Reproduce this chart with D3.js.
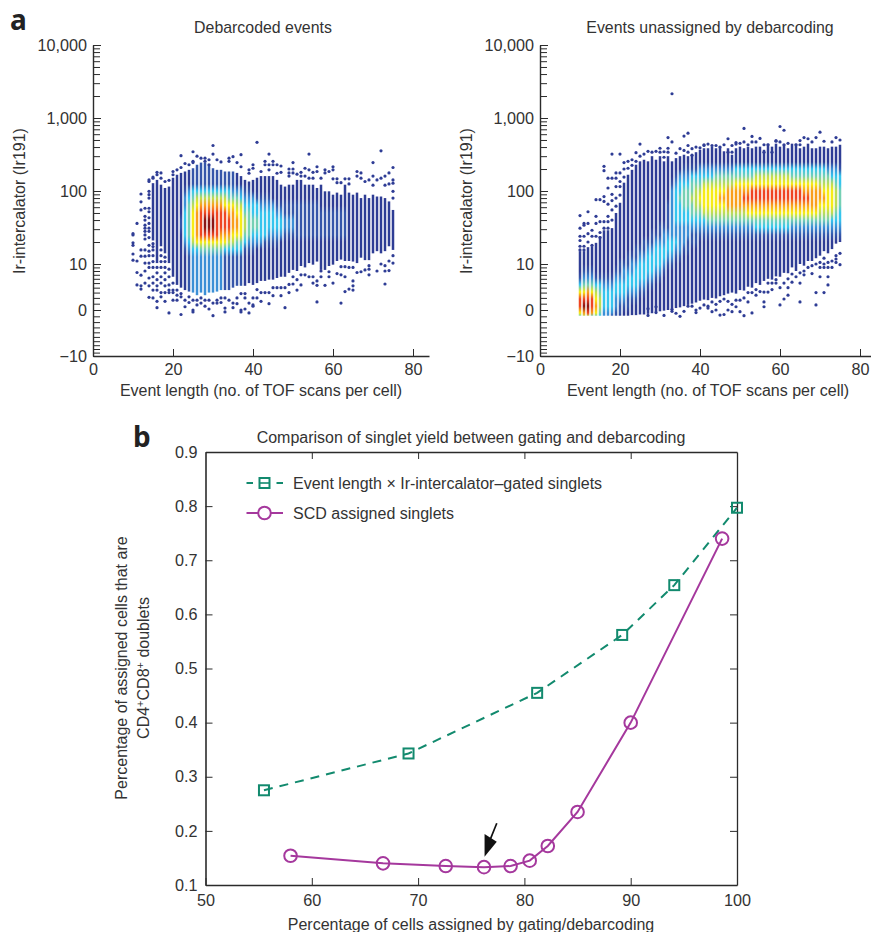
<!DOCTYPE html>
<html>
<head>
<meta charset="utf-8">
<script src="https://cdnjs.cloudflare.com/ajax/libs/d3/7.8.5/d3.min.js"></script>
<style>
  html, body { margin: 0; padding: 0; background: #fff; overflow: hidden; }
  text { font-family: "Liberation Sans", sans-serif; fill: #333; }
  .axis text { font-size: 16.2px; }
  .axis path, .axis line { stroke: #2b2b2b; }
</style>
</head>
<body>
<svg id="chart"></svg>
<script>
var majorY = [-10, 0, 10, 100, 1000, 10000];
var minorY = [-9, -8, -7, -6, -5, -4, -3, -2, -1, 1, 2, 3, 4, 5, 6, 7, 8, 9,
  20, 30, 40, 50, 60, 70, 80, 90, 200, 300, 400, 500, 600, 700, 800, 900,
  2000, 3000, 4000, 5000, 6000, 7000, 8000, 9000];
var eventTicks = [0, 20, 40, 60, 80];

// panel a, left: solid column extents for event length 15..75
var aBarFrom = 15;
var aBarTop = [128, 142, 122, 110, 115, 152, 167, 177, 185, 195, 205, 229, 245, 245, 229, 205, 195, 195, 185, 185, 185, 177, 160, 142, 135, 142, 152, 160, 160, 160,
  160, 142, 122, 115, 122, 122, 142, 142, 122, 122, 122, 110, 122, 99, 99, 89, 95, 89, 122, 95, 89, 95, 80, 89, 80, 89, 84, 84, 80, 72, 55];
var aBarBottom = [21, 10.3, 17.5, 14, 10.3, 6.5, 4.6, 4, 3.5, 3.2, 3, 2.5, 3, 2.5, 3, 3, 3.2, 3.5, 3.5, 3.5, 4, 4.4, 4.4, 4.4, 5, 4.6, 5, 5.5, 5.5, 5.8,
  5.8, 6.2, 6.5, 6.5, 7.5, 8.3, 8, 9.4, 9, 10.3, 9.8, 10.8, 8.3, 8.3, 9.4, 9.8, 11, 11.5, 11, 11, 10.8, 10.3, 12.2, 11.3, 11.3, 14, 15, 14, 15, 17.5, 15.6];

// density level (0-9) at each row value, one string per column
var aRows = [125, 100, 80, 64, 50, 40, 32, 25, 20, 16, 12.5];
var aDensityFrom = 22;
var aDensity = [
  "00000110000", "01223333210", "02344444321", "13456666532", "13567777632", "13578888642", "13578998642", "13578998642",
  "13578998642", "13578888642", "13578887642", "13568887631", "13467887531", "12467776531", "02456776431", "02356666431",
  "01234554310", "01234444210", "00233443210", "00133443200", "00123333200", "00123333100", "00123332100", "00023332100",
  "00012332100", "00012332000", "00011221000", "00011221000", "00011221000", "00011111000", "00011111000", "00011111000",
  "00011111000", "00011111000", "00011111000", "00001111000", "00001111000", "00001111000", "00001111000", "00001111000",
  "00001111000", "00001111000"
];

// single events outside the solid columns, event length 10..75
var aDots = [
  [26, 25, 19.5, 18, 13.7, 11.3],
  [36, 11, 7.6, 4.6],
  [91, 71, 55, 15.6, 12.8, 6.9, 4.4, 3.7],
  [58, 45, 40, 34, 31, 28, 25, 22, 15.6, 12.8, 10.3, 8, 5],
  [142, 135, 99, 89, 80, 58, 52, 43, 36, 31, 28, 23, 18, 15, 13, 10.3, 9, 6.2, 4.4, 2.1],
  [155, 150, 19, 17.3, 15.6, 13, 10.8, 9, 6.5, 5, 3.5, 2],
  [180, 167, 9, 7.5, 5.8, 4.4, 3.5, 1.4, 0.35],
  [177, 150, 15.6, 13, 10.8, 9, 6.5, 5, 3, 2.2],
  [135, 12.4, 10.8, 9, 7.5, 5.8, 4.4, 3, 1.4],
  [140, 8.5, 6.5, 4.6, 3.5, 3, -0.45],
  [185, 167, 5, 3.5, 3, 1.6],
  [195, 3.5, 2.5, 1.6],
  [305, 210, 2.8, 2.2, -0.7],
  [238, 1.6, 0.5],
  [229, 2.2, 1.2],
  [345, 255, 245, 1.6, 0, -0.3],
  [300, 1.6, 0.8],
  [282, 1.1, 2],
  [282, 255, 1.6, 0.6],
  [268, 229, 1.6, 0.15],
  [420, 320, 1.1, -0.9],
  [268, 1.6, 1.1],
  [250, 2, 1.2],
  [2, 0.3, -0.3],
  [282, 255, 1.6],
  [295, 1.1, 0.35],
  [245, 2, 1],
  [314, 215, 2.8, 0, -0.3],
  [2, 2.8, 0.15],
  [195, 175, 1.1, -0.45],
  [229, 205, 2, 0.8, 0.6],
  [465, 3.6, 2],
  [185, 3, 1.4],
  [255, 229, 3],
  [320, 229, 195, 3, 1],
  [255, 229, 4, 2.4],
  [229, 175, 4],
  [220, 180, 4, 2.4],
  [4, 0.35],
  [200, 177, 160, 4.7, 3],
  [245, 200, 177, 6.5, 4.8],
  [170, 5.8, 3.5],
  [180, 160, 7, 4.6],
  [205, 160, 7],
  [320, 195, 150, 6.5],
  [180, 150, 6.5, 5],
  [215, 185, 5.5, 4.5, 1.3],
  [150, 8, 6.5],
  [195, 177, 4.5],
  [185, 7.8, 6.5],
  [215, 195, 147, 5],
  [147, 130, 7.3],
  [130, 9.2, 7, 1.1],
  [147, 9.2, 6.5, 3.2],
  [147, 125, 9, 3.7],
  [9, 5.5, 4.4, 3.5],
  [185, 160, 7.6],
  [177, 150, 7.8],
  [135, 8.3],
  [142, 9.5, 8.5, 7],
  [245, 160, 120],
  [142, 8],
  [355, 150, 10],
  [160, 120, 9.5, 8, 4.8],
  [177, 125, 11, 8.1],
  [210, 142, 128, 99, 80, 13, 10.3]
];

// panel a, right: solid column extents for event length 10..75
var bBarFrom = 10;
var bBarTop = [15, 15, 17, 17.5, 19.5, 24, 29, 29, 31, 50, 69, 130, 167, 195, 229, 255, 268, 255, 300, 268, 300, 255, 300, 255, 282, 300, 314, 300, 314, 340,
  367, 385, 385, 405, 385, 405, 350, 385, 314, 385, 405, 385, 405, 385, 405, 405, 367, 445, 405, 445, 405, 430, 385, 445, 445, 385, 405, 445, 385, 385, 405, 405, 385, 405, 405, 430];
var bBarBottom = [-0.9, -0.9, -0.9, -0.9, -0.9, -0.9, -0.9, -0.9, -0.9, -0.9, -0.9, -0.9, -0.9, -0.8, -0.8, -0.7, -0.7, -0.6, -0.5, -0.3, -0.2, -0.1, 0, 0.2, 0.3, 0.4, 0.6, 0.8, 1, 1.2,
  1.5, 1.7, 1.6, 2, 1.9, 2.3, 2.5, 2.8, 3, 2.8, 3.5, 3.4, 4.2, 4, 5, 4.6, 5.5, 6, 5.8, 6.6, 6.5, 7.5, 7.4, 9, 8, 10, 9.5, 11, 11, 12, 13, 15, 14, 16, 19, 20];

var bRows = [250, 200, 160, 125, 100, 80, 64, 50, 40, 32, 25, 20, 16, 12.5, 10, 8, 6.2, 4.6, 3.1, 1.8, 0.6, -0.45, -1];
var bDensityFrom = 10;
var bDensity = [
  "00000000000000001368864", "00000000000000012468975", "00000000000000012478985", "00000000000000012468874", "00000000000000001356764",
  "00000000000000001345543", "00000000000000001233322", "00000000000000001233322", "00000000000000001233321", "00000000000000012332211",
  "00000000000000112332110", "0000000000000012233210", "0000000000000112332110", "000000000000012233210", "000000000000112333210",
  "00000000000012333210", "00000000000112333210", "0000000000012333210", "0000000000112333210", "000000000012333210",
  "00000000011233321", "0000000001223321", "000000111123321", "000122222223321", "00123333322321",
  "00233433322221", "0123444332221", "0123444332211", "013445443211", "013455543211",
  "02345654321", "02356665321", "02356665421", "02356665421", "02456665421",
  "02456765421", "02456765421", "02457775421", "02457775421", "03467775421",
  "03467775421", "03467875421", "03467876421", "03468876421", "03568876431",
  "03568876431", "03568876431", "03568876431", "03568876431", "03568876431",
  "03568876431", "03568876431", "03568876431", "03468876421", "03468876421",
  "03468876421", "03467876421", "03467876421", "03467776421", "03467776421",
  "03457765421", "03456765421", "02456665421", "02356665321", "02345554321",
  "01334443321"
];

var bDots = [
  [46, 31, 24, 21, 17.5, 15.6],
  [36, 34, 24, 17.5, 15.6],
  [52, 36, 26, 20],
  [29, 24, 18],
  [76, 45, 36, 24],
  [76, 38, 27, 23],
  [218, 190, 84, 72, 38, 31],
  [150, 110, 66, 45, 38, 31],
  [320, 150, 90, 74, 55, 40],
  [177, 150, 115, 80, 62],
  [320, 177, 135, 115, 88],
  [245, 200, 155],
  [255, 205],
  [268, 225],
  [335, 255],
  [440, 300],
  [320],
  [350, 0.2, -0.85],
  [340],
  [350, 0.5, -0.4],
  [385, 340],
  [345, 290, -0.85],
  [540, 385, 340],
  [2150, 470, 0.1, -0.2],
  [330, -0.5],
  [380, -1],
  [565, 360, -0.2],
  [620, 420, 340, 0.6],
  [380, 310, 0.6],
  [400, 0, -0.4],
  [390, 0.3],
  [430, 420, 0.8],
  [440, 0.6, 0.3],
  [420, 1.3, -0.25],
  [420, 0.9, 0],
  [400, 1.4, -0.8],
  [430, 1.8, -0.7],
  [520, 340, 1.4, 0],
  [420, 340, 0.9, -0.25],
  [460, 440, 1.6, 0.5],
  [450, 1.6, -0.25],
  [720, 470, 2, -0.9],
  [430, 3, 1.3],
  [560, 470, 3, -0.45],
  [470, 3.6, 2.5],
  [525, 3.2],
  [430, 340, 3.1, 1.3, 0.5],
  [430, 5, 3.1],
  [340, 5, 3.6],
  [490, 480, 5.8, 5],
  [765, 470, 4, 0.8],
  [680, 430, 5, 1.8],
  [450, 6, 4, 2.5],
  [7.2, 5.2],
  [430, 6.5],
  [490, 430, 7.5, 5, 1.3],
  [540, 8, 7],
  [520, 9],
  [470, 7.3, 9.5],
  [540, 10, 3, 0.8],
  [640, 10.5, 9, 6.5],
  [480, 12, 10, 9, 3],
  [10.5, 9, 6.5, 4.6],
  [470, 11, 9],
  [540, 13, 11.7, 10.5],
  [500, 14, 9.8]
];

// panel b
var yieldTicksX = [50, 60, 70, 80, 90, 100];
var yieldTicksY = [0.1, 0.2, 0.3, 0.4, 0.5, 0.6, 0.7, 0.8, 0.9];
var gatedX = [55.5, 69.1, 81.2, 89.2, 94.1, 100];
var gatedY = [0.275, 0.343, 0.455, 0.562, 0.654, 0.797];
var scdX = [58, 66.7, 72.6, 76.2, 78.7, 80.5, 82.2, 85, 90, 98.6];
var scdY = [0.154, 0.14, 0.135, 0.133, 0.135, 0.145, 0.172, 0.235, 0.4, 0.74];

var w = 871;
var h = 932;
var baseBlue = "#2f3c95";
var green = "#128a6e";
var purple = "#a5389d";

var levelColor = d3.scaleLinear()
  .domain([0, 1, 2, 3, 4, 5, 6, 7, 8, 9])
  .range(["#2f3c95", "#3456aa", "#3b8fd6", "#36c5ee", "#74d0b4", "#bcdc55", "#f7ec13", "#f99f1e", "#ef4524", "#8a1412"]);

var svg = d3.select("#chart").attr("width", w).attr("height", h);
var defs = svg.append("defs");

var soften = defs.append("filter").attr("id", "soften")
  .attr("x", "-5%").attr("y", "-5%").attr("width", "110%").attr("height", "110%");
soften.append("feGaussianBlur").attr("stdDeviation", 0.25);

// the y axis is log above 10 and symlog around 0
var yLog = d3.scaleLog().domain([10, 10000]).range([264, 45]);
var ySym = d3.scaleSymlog().constant(10).domain([-10, 10]).range([356, 264]);
function y(v) {
  return v > 10 ? yLog(v) : ySym(v);
}
var allY = majorY.concat(minorY).sort(d3.ascending);
var yAxisScale = d3.scaleLinear().domain(allY).range(allY.map(y));

function drawScatter(p) {
  var x = d3.scaleLinear().domain([0, 84]).range([p.left, p.left + 336]);
  var g = svg.append("g");
  var marks = g.append("g").attr("filter", "url(#soften)");
  var cols = d3.range(p.barTop.length).map(function(i) {
    return {
      col: i + p.barFrom,
      top: p.barTop[i],
      bottom: p.barBottom[i],
      density: p.density[i + p.barFrom - p.densityFrom]
    };
  });

  cols.forEach(function(d) {
    if (!d.density) return;
    var grad = defs.append("linearGradient")
      .attr("id", p.id + "-col" + d.col)
      .attr("gradientUnits", "userSpaceOnUse")
      .attr("x1", 0).attr("x2", 0)
      .attr("y1", y(p.rows[0]))
      .attr("y2", y(p.rows[p.rows.length - 1]));
    var span = y(p.rows[p.rows.length - 1]) - y(p.rows[0]);
    p.rows.forEach(function(r, i) {
      grad.append("stop")
        .attr("offset", (y(r) - y(p.rows[0])) / span)
        .attr("stop-color", levelColor(+d.density.charAt(i) || 0));
    });
  });

  marks.selectAll("rect")
    .data(cols)
    .enter()
    .append("rect")
    .attr("x", function(d) { return x(d.col) - 1.25; })
    .attr("width", 2.5)
    .attr("y", function(d) { return y(d.top); })
    .attr("height", function(d) { return y(d.bottom) - y(d.top); })
    .attr("fill", function(d) {
      return d.density ? "url(#" + p.id + "-col" + d.col + ")" : baseBlue;
    });

  var dots = [];
  p.dots.forEach(function(list, i) {
    list.forEach(function(v) {
      dots.push({ col: i + 10, v: v });
    });
  });
  marks.selectAll("circle")
    .data(dots)
    .enter()
    .append("circle")
    .attr("cx", function(d) { return x(d.col); })
    .attr("cy", function(d) { return y(d.v); })
    .attr("r", 1.6)
    .attr("fill", baseBlue);

  g.append("g")
    .attr("class", "axis")
    .attr("transform", "translate(" + p.left + ",0)")
    .call(d3.axisLeft(yAxisScale).tickValues(minorY).tickSizeInner(-7).tickSizeOuter(0).tickFormat(""))
    .call(function(s) { s.select(".domain").remove(); });

  g.append("g")
    .attr("class", "axis")
    .attr("transform", "translate(" + p.left + ",0)")
    .call(d3.axisLeft(yAxisScale).tickValues(majorY).tickSizeInner(-8).tickSizeOuter(0).tickPadding(6).tickFormat(d3.format(",")))
    .call(function(s) { s.select(".domain").attr("stroke-width", 1.4); });

  g.append("g")
    .attr("class", "axis")
    .attr("transform", "translate(0,356)")
    .call(d3.axisBottom(x).tickValues(eventTicks).tickSizeInner(-7).tickSizeOuter(0).tickPadding(7).tickFormat(d3.format("d")))
    .call(function(s) { s.select(".domain").attr("stroke-width", 1.4); });

  g.append("text")
    .attr("x", p.left + 170)
    .attr("y", 33)
    .attr("text-anchor", "middle")
    .attr("font-size", 15.9)
    .text(p.title);

  g.append("text")
    .attr("x", p.left + 168)
    .attr("y", 396)
    .attr("text-anchor", "middle")
    .attr("font-size", 16)
    .text("Event length (no. of TOF scans per cell)");

  g.append("text")
    .attr("transform", "translate(" + (p.left - 68) + ",201) rotate(-90)")
    .attr("text-anchor", "middle")
    .attr("font-size", 16)
    .text("Ir-intercalator (Ir191)");
}

drawScatter({
  id: "a", left: 93, title: "Debarcoded events",
  barFrom: aBarFrom, barTop: aBarTop, barBottom: aBarBottom,
  rows: aRows, densityFrom: aDensityFrom, density: aDensity, dots: aDots
});
drawScatter({
  id: "b", left: 540, title: "Events unassigned by debarcoding",
  barFrom: bBarFrom, barTop: bBarTop, barBottom: bBarBottom,
  rows: bRows, densityFrom: bDensityFrom, density: bDensity, dots: bDots
});

// panel b
var xB = d3.scaleLinear().domain([50, 100]).range([205.5, 737]);
var yB = d3.scaleLinear().domain([0.1, 0.9]).range([885, 452]);

var gAxes = svg.append("g").attr("class", "axis");
gAxes.append("g")
  .attr("transform", "translate(0,885)")
  .call(d3.axisBottom(xB).tickValues(yieldTicksX).tickSizeInner(-7).tickSizeOuter(0).tickPadding(9).tickFormat(d3.format("d")))
  .call(function(s) { s.select(".domain").attr("stroke-width", 1.6); });
gAxes.append("g")
  .attr("transform", "translate(205.5,0)")
  .call(d3.axisLeft(yB).tickValues(yieldTicksY).tickSizeInner(-7).tickSizeOuter(0).tickPadding(8).tickFormat(d3.format(".1f")))
  .call(function(s) { s.select(".domain").attr("stroke-width", 1.6); });
gAxes.append("g")
  .attr("transform", "translate(0,452)")
  .call(d3.axisTop(xB).tickValues(yieldTicksX.slice(1, 5)).tickSizeInner(-7).tickSizeOuter(0).tickFormat(""))
  .call(function(s) { s.select(".domain").attr("stroke-width", 1.3); });
gAxes.append("g")
  .attr("transform", "translate(737,0)")
  .call(d3.axisRight(yB).tickValues(yieldTicksY.slice(1, 8)).tickSizeInner(-7).tickSizeOuter(0).tickFormat(""))
  .call(function(s) { s.select(".domain").attr("stroke-width", 1.3); });

var line = d3.line()
  .x(function(d) { return xB(d[0]); })
  .y(function(d) { return yB(d[1]); });

var gated = d3.zip(gatedX, gatedY);
var scd = d3.zip(scdX, scdY);

svg.append("path")
  .attr("d", line(gated))
  .attr("fill", "none")
  .attr("stroke", green)
  .attr("stroke-width", 2)
  .attr("stroke-dasharray", "9 7");

svg.append("path")
  .attr("d", line(scd))
  .attr("fill", "none")
  .attr("stroke", purple)
  .attr("stroke-width", 2);

svg.selectAll(".gated")
  .data(gated)
  .enter()
  .append("rect")
  .attr("class", "gated")
  .attr("x", function(d) { return xB(d[0]) - 5; })
  .attr("y", function(d) { return yB(d[1]) - 5; })
  .attr("width", 10)
  .attr("height", 10)
  .attr("fill", "none")
  .attr("stroke", green)
  .attr("stroke-width", 2);

svg.selectAll(".scd")
  .data(scd)
  .enter()
  .append("circle")
  .attr("class", "scd")
  .attr("cx", function(d) { return xB(d[0]); })
  .attr("cy", function(d) { return yB(d[1]); })
  .attr("r", 6.3)
  .attr("fill", "none")
  .attr("stroke", purple)
  .attr("stroke-width", 2);

// arrow at the chosen threshold
svg.append("line")
  .attr("x1", xB(77.4)).attr("y1", yB(0.214))
  .attr("x2", xB(76.6)).attr("y2", yB(0.175))
  .attr("stroke", "#111")
  .attr("stroke-width", 1.7);
svg.append("path")
  .attr("d", "M" + xB(76.25) + "," + yB(0.152) + "L" + xB(76.25) + "," + yB(0.194) + "L" + xB(77.4) + "," + yB(0.18) + "Z")
  .attr("fill", "#111");

// legend
var legendRows = [
  { label: "Event length \u00d7 Ir-intercalator\u2013gated singlets", cy: 483, color: green },
  { label: "SCD assigned singlets", cy: 513, color: purple }
];
legendRows.forEach(function(d, i) {
  var l = svg.append("line")
    .attr("x1", 246.5).attr("x2", 283)
    .attr("y1", d.cy).attr("y2", d.cy)
    .attr("stroke", d.color)
    .attr("stroke-width", 1.8);
  if (i === 0) {
    l.attr("stroke-dasharray", "6.5 23.5 6.5");
    svg.append("line")
      .attr("x1", 259).attr("x2", 270)
      .attr("y1", d.cy).attr("y2", d.cy)
      .attr("stroke", d.color)
      .attr("stroke-width", 1.6);
    svg.append("rect")
      .attr("x", 259.5).attr("y", d.cy - 5)
      .attr("width", 10).attr("height", 10)
      .attr("fill", "none").attr("stroke", d.color).attr("stroke-width", 2);
  } else {
    svg.append("circle")
      .attr("cx", 264.5).attr("cy", d.cy).attr("r", 6.3)
      .attr("fill", "#fff").attr("stroke", d.color).attr("stroke-width", 2);
  }
  svg.append("text")
    .attr("x", 293)
    .attr("y", d.cy + 5.5)
    .attr("font-size", 16)
    .text(d.label);
});

svg.append("text")
  .attr("x", 471)
  .attr("y", 443)
  .attr("text-anchor", "middle")
  .attr("font-size", 16)
  .text("Comparison of singlet yield between gating and debarcoding");

svg.append("text")
  .attr("x", 471)
  .attr("y", 930)
  .attr("text-anchor", "middle")
  .attr("font-size", 16)
  .text("Percentage of cells assigned by gating/debarcoding");

svg.append("text")
  .attr("transform", "translate(127,668) rotate(-90)")
  .attr("text-anchor", "middle")
  .attr("font-size", 16)
  .text("Percentage of assigned cells that are");

var yLabel2 = svg.append("text")
  .attr("transform", "translate(149,668) rotate(-90)")
  .attr("text-anchor", "middle")
  .attr("font-size", 16);
yLabel2.append("tspan").text("CD4");
yLabel2.append("tspan").attr("dy", -5).attr("font-size", 11).text("+");
yLabel2.append("tspan").attr("dy", 5).text("CD8");
yLabel2.append("tspan").attr("dy", -5).attr("font-size", 11).text("+");
yLabel2.append("tspan").attr("dy", 5).text(" doublets");

svg.append("text")
  .attr("x", 10).attr("y", 30)
  .attr("font-size", 28)
  .style("font-family", "'Noto Sans', sans-serif")
  .style("font-weight", 700)
  .style("fill", "#222")
  .text("a");
svg.append("text")
  .attr("x", 133).attr("y", 447)
  .attr("font-size", 28)
  .style("font-family", "'Noto Sans', sans-serif")
  .style("font-weight", 700)
  .style("fill", "#222")
  .text("b");
</script>
</body>
</html>
